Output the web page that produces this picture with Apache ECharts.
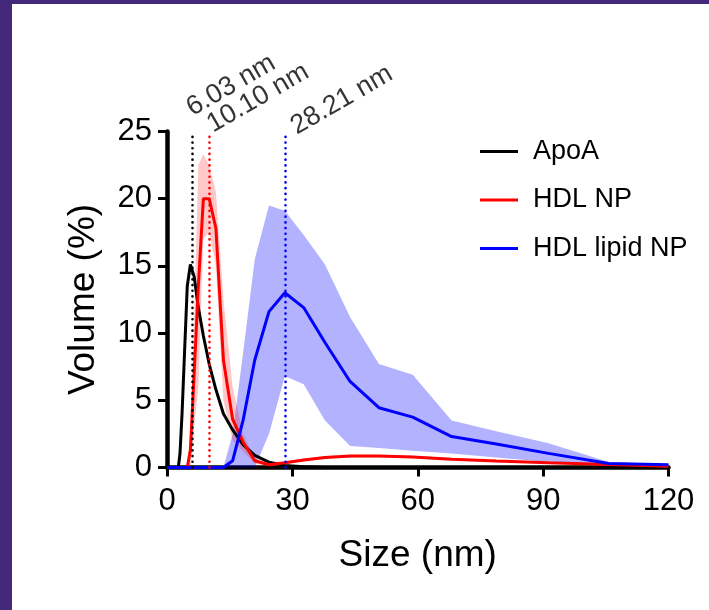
<!DOCTYPE html>
<html>
<head>
<meta charset="utf-8">
<script src="https://cdn.jsdelivr.net/npm/echarts@6/dist/echarts.min.js"></script>
<style>
  html, body { margin: 0; padding: 0; background: #fff; }
  #chart { position: absolute; left: 0; top: 0; width: 709px; height: 610px; }
  .edge { position: absolute; background: #44297a; pointer-events: none; }
</style>
</head>
<body>
<div id="chart"></div>
<div class="edge" style="left:0;top:0;width:12px;height:610px;"></div>
<div class="edge" style="left:0;top:0;width:709px;height:4px;"></div>
<script>
// ---- data ----
const sizeBins = [0, 2.7, 3.1, 3.6, 4.19, 4.85, 5.6, 6.5, 7.5, 8.7, 10.1, 11.7, 13.5, 15.7, 18.2, 21.0, 24.4, 28.2, 32.7, 37.8, 43.8, 50.7, 58.8, 68.1, 78.8, 91.3, 105.7, 120];

const apoA = [0, 0, 1, 4, 8.5, 13.5, 15.1, 14.2, 11.9, 9.8, 7.7, 5.8, 4.0, 2.8, 1.7, 0.9, 0.4, 0.15, 0.05, 0, 0, 0, 0, 0, 0, 0, 0, 0];

const hdlNP      = [0, 0, 0, 0, 0, 0, 1.3, 7, 13.5, 20, 20, 17.8, 8, 3.6, 1.9, 0.5, 0.2, 0.35, 0.55, 0.75, 0.85, 0.85, 0.78, 0.62, 0.48, 0.35, 0.22, 0.1];
const hdlNPUpper = [0, 0, 0, 0, 0, 0, 3, 11, 22.5, 23.3, 22.5, 20.5, 12.5, 6.0, 2.5, 0.7, 0.3, 0.45, 0.65, 0.85, 0.95, 0.95, 0.88, 0.7, 0.55, 0.4, 0.26, 0.12];
const hdlNPLower = [0, 0, 0, 0, 0, 0, 0, 3, 6, 17, 17.5, 15, 5, 2.0, 1.2, 0.3, 0.1, 0.25, 0.45, 0.65, 0.75, 0.75, 0.68, 0.54, 0.41, 0.3, 0.18, 0.08];

const hdlLipidNP      = [0, 0, 0, 0, 0, 0, 0, 0, 0, 0, 0, 0, 0, 0.5, 3.5, 8, 11.6, 13, 11.9, 9.3, 6.4, 4.45, 3.75, 2.3, 1.75, 1.05, 0.3, 0.2];
const hdlLipidNPUpper = [0, 0, 0, 0, 0, 0, 0, 0, 0, 0, 0, 0, 0, 2.5, 8.5, 15.5, 19.5, 19.1, 17.3, 15.1, 11.2, 7.7, 6.9, 3.5, 2.7, 1.8, 0.4, 0.25];
const hdlLipidNPLower = [0, 0, 0, 0, 0, 0, 0, 0, 0, 0, 0, 0, 0, 0, 0, 0, 2.5, 6.8, 6.2, 3.5, 1.6, 1.45, 1.25, 1.05, 0.75, 0.4, 0.2, 0.15];

const seriesNames = ['ApoA', 'HDL NP', 'HDL lipid NP'];
const peakSizes = [6.03, 10.10, 28.21];
const peakLabels = ['6.03 nm', '10.10 nm', '28.21 nm'];
const xTicks = [0, 30, 60, 90, 120];
const yTicks = [0, 5, 10, 15, 20, 25];

// ---- styles ----
const FONT = '"Liberation Sans", Arial, Helvetica, sans-serif';
const colors = ['#000000', '#ff0000', '#0000ff'];
const labelPositions = [[3.8, -9.5], [7.3, 6.9], [15.3, 8.9]];

const pairs = (ys) => sizeBins.map((x, i) => [x, ys[i]]);

function band(id, lower, upper, fill) {
  return {
    type: 'custom', name: id, silent: true, z: 1,
    data: [[sizeBins[0], 0]],
    renderItem: (params, api) => {
      const pts = [];
      for (let i = 0; i < sizeBins.length; i++) pts.push(api.coord([sizeBins[i], upper[i]]));
      for (let i = sizeBins.length - 1; i >= 0; i--) pts.push(api.coord([sizeBins[i], lower[i]]));
      return { type: 'polygon', shape: { points: pts }, style: { fill: fill } };
    }
  };
}

function mainLine(i, values) {
  return {
    type: 'line', name: seriesNames[i], data: pairs(values), symbol: 'none',
    lineStyle: { color: colors[i], width: 3 }, itemStyle: { color: colors[i] }, z: 3,
    markLine: {
      silent: true, symbol: 'none', animation: false,
      label: { show: false },
      lineStyle: { color: colors[i], type: [0.1, 5.6], cap: 'round', width: 2.6 },
      data: [{ xAxis: peakSizes[i] }]
    }
  };
}

const chart = echarts.init(document.getElementById('chart'), null, { renderer: 'canvas' });
const yMax = yTicks[yTicks.length - 1];

chart.setOption({
  animation: false,
  backgroundColor: '#ffffff',
  grid: { left: 167, right: 40.5, top: 131.5, bottom: 142.5, containLabel: false },
  xAxis: {
    type: 'value', min: xTicks[0], max: xTicks[xTicks.length - 1], interval: 30,
    name: 'Size (nm)', nameLocation: 'middle', nameGap: 70,
    nameTextStyle: { fontFamily: FONT, fontSize: 37, color: '#000' },
    axisLine: { lineStyle: { color: '#000', width: 4.5 } },
    axisTick: { show: true, length: 9, lineStyle: { color: '#000', width: 3 } },
    axisLabel: { fontFamily: FONT, fontSize: 31, color: '#000', margin: 18 },
    splitLine: { show: false }
  },
  yAxis: {
    type: 'value', min: yTicks[0], max: yMax, interval: 5,
    name: 'Volume (%)', nameLocation: 'middle', nameGap: 65,
    nameTextStyle: { fontFamily: FONT, fontSize: 37, color: '#000' },
    axisLine: { lineStyle: { color: '#000', width: 4.5 } },
    axisTick: { show: true, length: 9, lineStyle: { color: '#000', width: 3 } },
    axisLabel: { fontFamily: FONT, fontSize: 31, color: '#000', margin: 15 },
    splitLine: { show: false }
  },
  legend: {
    data: seriesNames, orient: 'vertical', left: 475, top: 133,
    icon: 'rect', itemWidth: 38, itemHeight: 3, itemGap: 21.5,
    textStyle: { fontFamily: FONT, fontSize: 27, color: '#000', padding: [0, 0, 0, 10] }
  },
  series: [
    band('lipidBand', hdlLipidNPLower, hdlLipidNPUpper, 'rgba(0,0,255,0.3)'),
    band('npBand', hdlNPLower, hdlNPUpper, 'rgba(255,0,0,0.22)'),
    mainLine(0, apoA),
    mainLine(1, hdlNP),
    mainLine(2, hdlLipidNP),
    {
      type: 'scatter', name: 'peaks', symbolSize: 1, silent: true, z: 5,
      itemStyle: { color: 'transparent' },
      data: peakSizes.map((x, i) => ({ value: [x, yMax], label: { position: labelPositions[i] } })),
      label: {
        show: true, align: 'left', verticalAlign: 'bottom', rotate: 30,
        fontFamily: FONT, fontSize: 27, color: '#000',
        formatter: (p) => peakLabels[p.dataIndex]
      }
    }
  ]
});
</script>
</body>
</html>
